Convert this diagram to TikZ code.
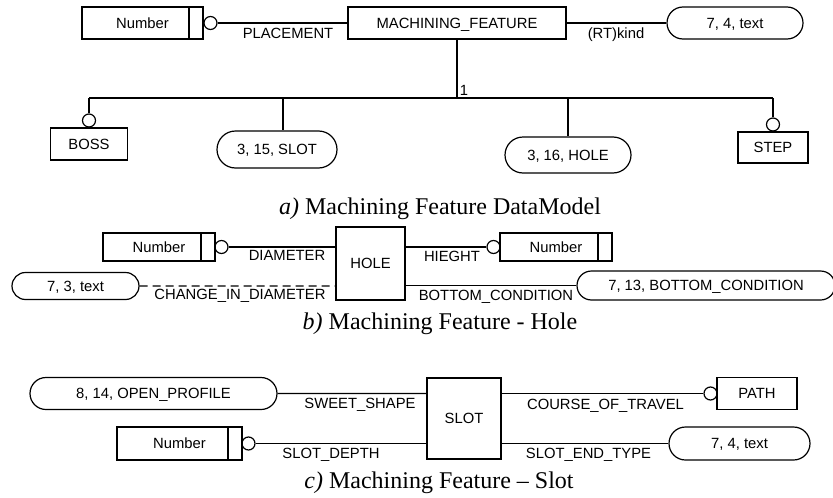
\documentclass[tikz,border=0pt]{standalone}
\usepackage{fontspec}
\setmainfont{Liberation Serif}
\setsansfont{Liberation Sans}
\usetikzlibrary{shapes.misc}

\begin{document}
\begin{tikzpicture}[x=1pt,y=-1pt,
  box/.style={draw,line width=1.2pt,inner sep=0pt,text height=10.6pt,text depth=0pt,font=\sffamily\fontsize{14.8}{16}\selectfont},
  oval/.style={box,rounded rectangle},
  numbox/.style={box,path picture={\draw[line width=1.2pt] ([xshift=-14pt]path picture bounding box.north east)--([xshift=-14pt]path picture bounding box.south east);}},
  ring/.style={draw,circle,line width=1.2pt,inner sep=0pt,minimum size=13pt},
  lbl/.style={inner sep=0pt,text height=10.6pt,text depth=0pt,font=\sffamily\fontsize{14.8}{16}\selectfont},
  captxt/.style={anchor=base,inner sep=0pt,font=\rmfamily\fontsize{24}{28}\selectfont},
  conn/.style={line width=1.2pt},
  bus/.style={line width=2.2pt}]
\useasboundingbox[fill=white] (0,0) rectangle (833,498);
\node[numbox,minimum width=121pt,minimum height=32pt] (numA) at (142.5,23) {Number};
\node[ring] (ringA) at (210.5,23) {};
\node[box,minimum width=218pt,minimum height=32pt] (mf) at (457,23) {MACHINING\_FEATURE};
\node[oval,minimum width=136pt,minimum height=32pt] (kindA) at (735,23) {7, 4, text};
\draw[conn] (ringA)--(mf); \draw[conn] (mf)--(kindA);
\node[lbl] (lPlace) at (288,33) {PLACEMENT}; \node[lbl] (lKind) at (616,33) {(RT)kind};
\coordinate (bl) at (89,98); \coordinate (br) at (773,98); \coordinate (bslot) at (283,98);
\draw[bus] (bl)--(br); \draw[bus] (mf.south)--(mf.south|-bl);
\node[lbl] (one) at (464,90) {1};
\node[ring] (ringBoss) at (89,120.5) {};
\node[box,minimum width=77pt,minimum height=32pt] (boss) at (89,144) {BOSS};
\node[oval,minimum width=120pt,minimum height=37pt] (slotA) at (277,149.5) {3, 15, SLOT};
\node[oval,minimum width=126pt,minimum height=36pt] (holeA) at (568,155) {3, 16, HOLE};
\node[ring] (ringStep) at (773,124.5) {};
\node[box,minimum width=70pt,minimum height=31pt] (step) at (773,147.5) {STEP};
\draw[bus] (bl)--(ringBoss); \draw[bus] (br)--(ringStep);
\draw[bus] (bslot)--(bslot|-slotA.north); \draw[bus] (holeA.north|-bl)--(holeA.north);
\node[captxt] (capA) at (440,214) {\textit{a)} Machining Feature DataModel};
\node[numbox,minimum width=112pt,minimum height=28pt] (numB1) at (159,247) {Number};
\node[ring] (ringB1) at (221.5,247) {};
\node[box,minimum width=69pt,minimum height=73pt] (hole) at (370.5,263.5) {HOLE};
\node[oval,minimum width=127pt,minimum height=27pt] (txtB) at (75.5,286) {7, 3, text};
\node[ring] (ringB2) at (493.5,247) {};
\node[numbox,minimum width=112pt,minimum height=28pt] (numB2) at (556,247) {Number};
\node[oval,minimum width=258pt,minimum height=29pt] (bottom) at (706,285.5) {7, 13, BOTTOM\_CONDITION};
\draw[conn] (ringB1)--(ringB1-|hole.west); \draw[conn,dash pattern=on 8pt off 5pt] (txtB)--(txtB-|hole.west);
\draw[conn] (ringB2-|hole.east)--(ringB2); \draw[conn] (bottom-|hole.east)--(bottom);
\node[lbl] (lDiam) at (287,255.5) {DIAMETER}; \node[lbl] (lChange) at (240,294.5) {CHANGE\_IN\_DIAMETER};
\node[lbl] (lHeight) at (452,256) {HIEGHT}; \node[lbl] (lBottom) at (496,295) {BOTTOM\_CONDITION};
\node[captxt] (capB) at (440,329) {\textit{b)} Machining Feature - Hole};
\node[oval,minimum width=247pt,minimum height=32pt] (openP) at (153.5,393.5) {8, 14, OPEN\_PROFILE};
\node[box,minimum width=74pt,minimum height=81pt] (slot) at (464,418.5) {SLOT};
\node[numbox,minimum width=125pt,minimum height=33pt] (numC) at (179.5,443.5) {Number};
\node[ring] (ringC1) at (248.5,443.5) {};
\node[ring] (ringC2) at (710.5,393.5) {};
\node[box,minimum width=80pt,minimum height=32pt] (pathC) at (757,393.5) {PATH};
\node[oval,minimum width=141pt,minimum height=33pt] (endC) at (739.5,443.5) {7, 4, text};
\draw[conn] (openP)--(openP-|slot.west); \draw[conn] (ringC1)--(ringC1-|slot.west);
\draw[conn] (ringC2-|slot.east)--(ringC2); \draw[conn] (endC-|slot.east)--(endC);
\node[lbl] (lSweet) at (360,403.5) {SWEET\_SHAPE}; \node[lbl] (lDepth) at (331,453.5) {SLOT\_DEPTH};
\node[lbl] (lCourse) at (605.5,404) {COURSE\_OF\_TRAVEL}; \node[lbl] (lEnd) at (588.5,453.5) {SLOT\_END\_TYPE};
\node[captxt] (capC) at (439,488) {\textit{c)} Machining Feature – Slot};
\end{tikzpicture}
\end{document}
